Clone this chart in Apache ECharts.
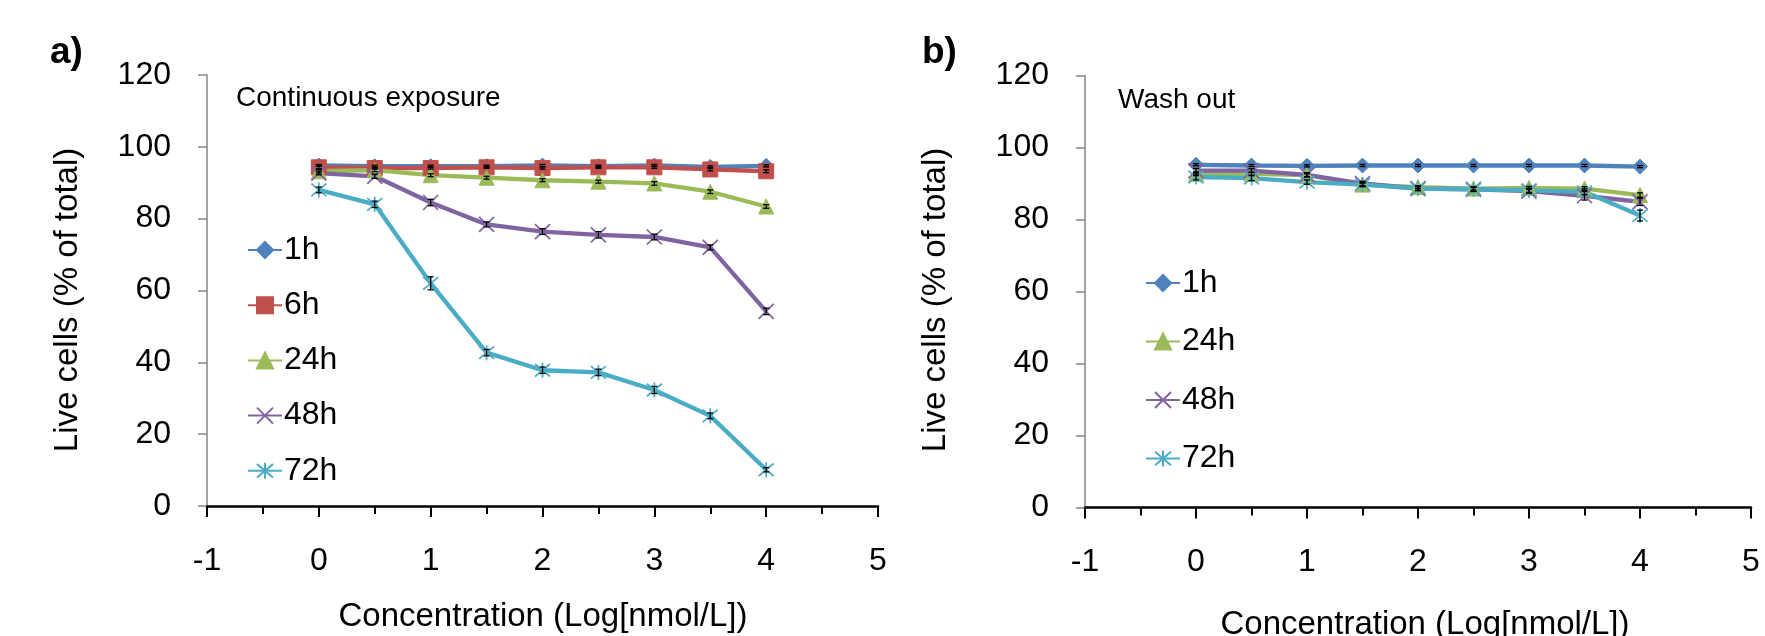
<!DOCTYPE html>
<html><head><meta charset="utf-8">
<script src="https://cdn.jsdelivr.net/npm/echarts@6/dist/echarts.min.js"></script>
<style>html,body{margin:0;padding:0;background:#fff}#c{width:1765px;height:636px}</style>
</head><body><div id="c"></div>
<script>
// ---- data ----
const concentrations = [0, 0.5, 1, 1.5, 2, 2.5, 3, 3.5, 4];
const xMin = -1, xMax = 5, xStep = 1;
const yMin = 0, yMax = 120, yStep = 20;

// Panel a: continuous exposure
const contNames = ['1h', '6h', '24h', '48h', '72h'];
const cont_1h  = [94.8, 94.6, 94.6, 94.6, 94.8, 94.6, 94.8, 94.4, 94.7];
const cont_6h  = [94.3, 94.1, 94.1, 94.3, 94.1, 94.3, 94.3, 93.7, 93.2];
const cont_24h = [93.2, 93.5, 92.1, 91.4, 90.7, 90.3, 89.8, 87.5, 83.4];
const cont_48h = [92.7, 91.8, 84.5, 78.4, 76.4, 75.5, 74.9, 72.0, 54.2];
const cont_72h = [88.0, 84.0, 62.0, 42.7, 37.8, 37.2, 32.3, 25.1, 10.1];
const contErr_1h  = [0.3, 0.3, 0.3, 0.3, 0.3, 0.3, 0.3, 0.3, 0.3];
const contErr_6h  = [0.4, 0.3, 0.3, 0.3, 0.3, 0.3, 0.3, 0.4, 0.4];
const contErr_24h = [0.5, 0.4, 0.4, 0.4, 0.4, 0.4, 0.5, 0.5, 0.5];
const contErr_48h = [0.5, 0.6, 0.9, 0.7, 0.8, 0.9, 0.8, 0.7, 0.9];
const contErr_72h = [0.8, 0.9, 1.8, 0.9, 0.9, 0.9, 1.0, 0.8, 0.6];

// Panel b: wash out
const washNames = ['1h', '24h', '48h', '72h'];
const wash_1h  = [95.2, 95.0, 94.9, 95.0, 95.0, 95.0, 95.0, 95.0, 94.7];
const wash_24h = [92.7, 92.7, 92.3, 89.7, 89.0, 88.6, 88.8, 88.6, 86.8];
const wash_48h = [93.6, 93.6, 92.4, 90.0, 88.6, 88.4, 87.9, 86.6, 84.9];
const wash_72h = [91.8, 91.5, 90.4, 89.7, 88.6, 88.4, 88.1, 87.7, 81.1];
const washErr_1h  = [0.3, 0.3, 0.3, 0.3, 0.3, 0.3, 0.3, 0.3, 0.3];
const washErr_24h = [0.5, 0.4, 0.4, 0.4, 0.4, 0.4, 0.4, 0.5, 0.6];
const washErr_48h = [0.6, 0.5, 0.6, 0.6, 0.5, 0.6, 0.6, 1.2, 1.0];
const washErr_72h = [0.8, 0.7, 0.6, 0.6, 0.6, 0.6, 0.6, 0.8, 1.5];

// ---- styles ----
const FONT = '"Liberation Sans", Arial, Helvetica, sans-serif';
const colors = { '1h': '#4F81BD', '6h': '#C0504D', '24h': '#9BBB59', '48h': '#8064A2', '72h': '#4BACC6' };
const symbols = {
  '1h': 'diamond',
  '6h': 'rect',
  '24h': 'triangle',
  '48h': 'path://M0,0L10,10M10,0L0,10',
  '72h': 'path://M0,0L10,10M10,0L0,10M5,-1L5,11'
};
const symbolSizes = { '1h': 15, '6h': 15, '24h': 15, '48h': 15, '72h': 15 };
const strokeOnly = { '48h': true, '72h': true };

function pairs(vals) { return concentrations.map((x, i) => [x, vals[i]]); }
function errPairs(vals, errs) { return concentrations.map((x, i) => [x, vals[i], errs[i]]); }

function lineSeries(name, vals, idx) {
  const c = colors[name];
  return {
    name: name, type: 'line', xAxisIndex: idx, yAxisIndex: idx,
    data: pairs(vals), symbol: symbols[name], symbolSize: symbolSizes[name],
    lineStyle: { color: c, width: 4.3 },
    itemStyle: strokeOnly[name]
      ? { color: 'rgba(255,255,255,0)', borderColor: c, borderWidth: 1.7 }
      : { color: c, borderColor: c, borderWidth: 1 },
    emphasis: { disabled: true }, animation: false, z: 2
  };
}
function errSeries(vals, errs, idx) {
  return {
    type: 'custom', xAxisIndex: idx, yAxisIndex: idx, z: 5, silent: true, animation: false,
    data: errPairs(vals, errs),
    renderItem: function (params, api) {
      const x = api.value(0), y = api.value(1), e = api.value(2);
      const hi = api.coord([x, y + e]), lo = api.coord([x, y - e]);
      const w = 3;
      const st = { stroke: '#000', lineWidth: 1.3 };
      return { type: 'group', children: [
        { type: 'line', shape: { x1: hi[0], y1: hi[1], x2: lo[0], y2: lo[1] }, style: st },
        { type: 'line', shape: { x1: hi[0] - w, y1: hi[1], x2: hi[0] + w, y2: hi[1] }, style: st },
        { type: 'line', shape: { x1: lo[0] - w, y1: lo[1], x2: lo[0] + w, y2: lo[1] }, style: st }
      ]};
    }
  };
}

function xAxisCfg(idx) {
  return {
    gridIndex: idx, type: 'value', min: xMin, max: xMax, interval: xStep,
    axisLine: { show: true, onZero: false, lineStyle: { color: '#000', width: 2.5 } },
    axisTick: { show: true, inside: false, length: 11, lineStyle: { color: '#000', width: 2 } },
    minorTick: { show: true, splitNumber: 2, length: 8, lineStyle: { color: '#000', width: 2 } },
    axisLabel: { color: '#000', fontFamily: FONT, fontSize: 32, margin: 39 },
    splitLine: { show: false }, minorSplitLine: { show: false }
  };
}
function yAxisCfg(idx) {
  return {
    gridIndex: idx, type: 'value', min: yMin, max: yMax, interval: yStep,
    axisLine: { show: true, onZero: false, lineStyle: { color: '#868686', width: 1.5 } },
    axisTick: { show: true, inside: false, length: 9, lineStyle: { color: '#868686', width: 1.5 } },
    axisLabel: { color: '#000', fontFamily: FONT, fontSize: 32, margin: 36 },
    splitLine: { show: false }
  };
}
function legendCfg(names, left, top, gap) {
  return {
    show: true, data: names, orient: 'vertical', left: left, top: top,
    itemWidth: 34, itemHeight: 20, itemGap: gap, selectedMode: false,
    textStyle: { color: '#000', fontFamily: FONT, fontSize: 32, lineHeight: 32, padding: [0, 0, 0, -3] }
  };
}

const series = [];
const contVals = { '1h': cont_1h, '6h': cont_6h, '24h': cont_24h, '48h': cont_48h, '72h': cont_72h };
const contErrs = { '1h': contErr_1h, '6h': contErr_6h, '24h': contErr_24h, '48h': contErr_48h, '72h': contErr_72h };
const washVals = { '1h': wash_1h, '24h': wash_24h, '48h': wash_48h, '72h': wash_72h };
const washErrs = { '1h': washErr_1h, '24h': washErr_24h, '48h': washErr_48h, '72h': washErr_72h };
contNames.forEach(n => series.push(lineSeries(n, contVals[n], 0)));
washNames.forEach(n => series.push(lineSeries(n, washVals[n], 1)));
contNames.forEach(n => series.push(errSeries(contVals[n], contErrs[n], 0)));
washNames.forEach(n => series.push(errSeries(washVals[n], washErrs[n], 1)));

function txt(text, x, y, font, align, rotation) {
  return { type: 'text', x: x, y: y, silent: true, rotation: rotation || 0,
    style: { text: text, fill: '#000', font: font, align: align || 'left', verticalAlign: 'middle' } };
}

const chart = echarts.init(document.getElementById('c'), null, { renderer: 'canvas' });
chart.setOption({
  backgroundColor: '#fff',
  animation: false,
  grid: [
    { left: 207, right: 887, top: 75, bottom: 130 },
    { left: 1085, right: 14, top: 75.5, bottom: 128.5 }
  ],
  xAxis: [xAxisCfg(0), xAxisCfg(1)],
  yAxis: [yAxisCfg(0), yAxisCfg(1)],
  legend: [
    legendCfg(contNames, 242, 229, 23.2),
    legendCfg(washNames, 1140, 262, 26.5)
  ],
  series: series,
  graphic: [
    txt('a)', 50, 53, 'bold 37px ' + FONT),
    txt('b)', 922, 53, 'bold 37px ' + FONT),
    txt('Continuous exposure', 236, 98, '28px ' + FONT),
    txt('Wash out', 1118, 100, '28px ' + FONT),
    txt('Live cells (% of total)', 68, 300, '33px ' + FONT, 'center', Math.PI / 2),
    txt('Live cells (% of total)', 936, 300, '33px ' + FONT, 'center', Math.PI / 2),
    txt('Concentration (Log[nmol/L])', 543, 617, '33px ' + FONT, 'center'),
    txt('Concentration (Log[nmol/L])', 1425, 625, '33px ' + FONT, 'center')
  ]
});
</script></body></html>
